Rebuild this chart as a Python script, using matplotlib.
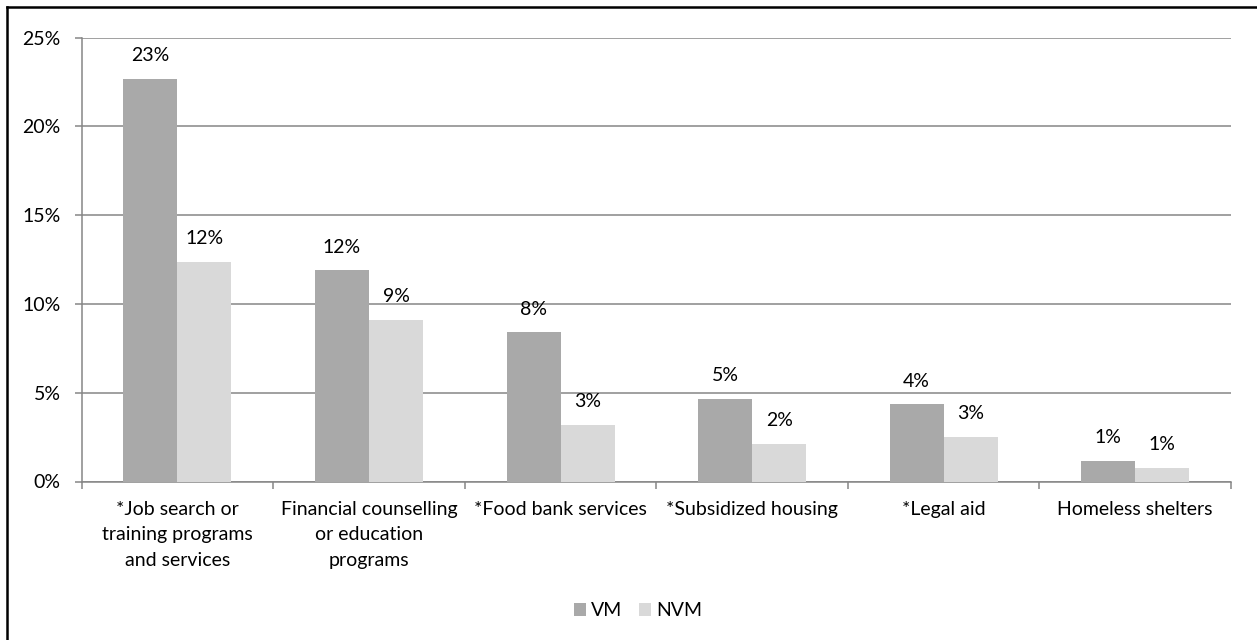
import matplotlib.pyplot as plt
from matplotlib.lines import Line2D
from matplotlib.ticker import FuncFormatter
import numpy as np

plt.rcParams['font.family'] = ['Lato', 'DejaVu Sans']

# Share of respondents using each service
categories = [
    '*Job search or\ntraining programs\nand services',
    'Financial counselling\nor education\nprograms',
    '*Food bank services',
    '*Subsidized housing',
    '*Legal aid',
    'Homeless shelters',
]
vm = [22.7, 11.9, 8.4, 4.64, 4.35, 1.17]
nvm = [12.36, 9.12, 3.2, 2.12, 2.52, 0.76]
series_names = ['VM', 'NVM']
yticks = [0, 5, 10, 15, 20, 25]

W, H = 1257, 640
fig = plt.figure(figsize=(W / 100, H / 100), dpi=100)
ax = fig.add_axes([81.7 / W, 1 - 481.5 / H, (1231 - 81.7) / W, (481.5 - 37.7) / H])

fs = 14
grid_c = '#868686'
x = np.arange(len(categories))
bw = 0.282

b1 = ax.bar(x - bw / 2, vm, bw, color='#A9A9A9', label=series_names[0], zorder=3)
b2 = ax.bar(x + bw / 2, nvm, bw, color='#D9D9D9', label=series_names[1], zorder=3)

for bars, vals in ((b1, vm), (b2, nvm)):
    for rect, v in zip(bars, vals):
        ax.annotate(f'{v:.0f}%', (rect.get_x() + rect.get_width() / 2, v),
                    xytext=(0, 12.7), textcoords='offset points',
                    ha='center', va='baseline', fontsize=fs, color='#000000')

ax.set_xlim(-0.5, len(categories) - 0.5)
ax.set_ylim(0, 25)
ax.set_yticks(yticks)
ax.yaxis.set_major_formatter(FuncFormatter(lambda v, p: f'{v:.0f}%'))
ax.yaxis.grid(True, color=grid_c, linewidth=1.1, zorder=0)
ax.set_axisbelow(True)

# category labels between boundary ticks
ax.set_xticks(x)
ax.set_xticklabels(categories, fontsize=fs, linespacing=1.6)
ax.tick_params(axis='x', which='major', length=0, pad=14)
ax.set_xticks(np.arange(-0.5, len(categories) + 0.5, 1), minor=True)
ax.tick_params(axis='x', which='minor', length=5, width=1.1, color=grid_c)
ax.tick_params(axis='y', length=5, width=1.1, color=grid_c, pad=10, labelsize=fs)

for s in ('top', 'right'):
    ax.spines[s].set_visible(False)
for s in ('left', 'bottom'):
    ax.spines[s].set_color(grid_c)
    ax.spines[s].set_linewidth(1.1)

fig.legend(handles=[b1, b2], loc='center', bbox_to_anchor=(638 / W, 1 - 611 / H),
           ncol=2, frameon=False, fontsize=fs, handlelength=0.62, handleheight=0.62,
           handletextpad=0.28, columnspacing=0.85)

# chart frame
fig.add_artist(Line2D([7.3 / W, 7.3 / W], [0, 1 - 7.3 / H], color='black', lw=1.8,
                      transform=fig.transFigure))
fig.add_artist(Line2D([7.3 / W, 1], [1 - 7.3 / H, 1 - 7.3 / H], color='black', lw=1.8,
                      transform=fig.transFigure))

fig.savefig('out.png', dpi=100)
